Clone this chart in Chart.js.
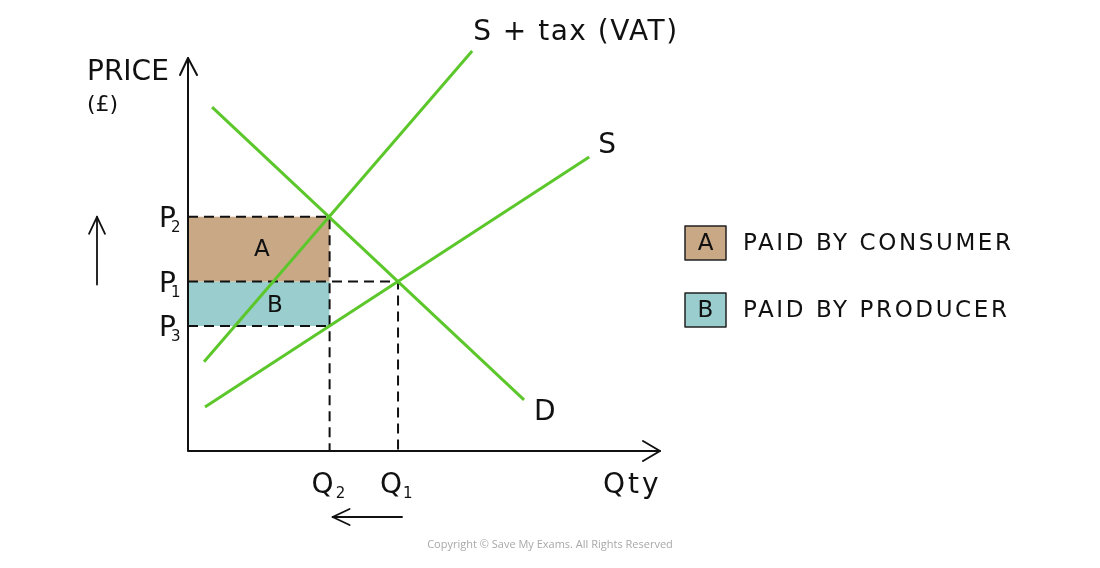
<!DOCTYPE html>
<html>
<head>
<meta charset="utf-8">
<script src="https://cdn.jsdelivr.net/npm/chart.js@4.4.1/dist/chart.umd.min.js"></script>
<style>
html,body{margin:0;padding:0;background:#fff;}
#wrap{width:1100px;height:568px;position:relative;}
</style>
</head>
<body>
<div id="wrap"><canvas id="c" width="1100" height="568"></canvas></div>
<script>
// ---- data (economic units) ----
const demand    = [{x:0.51, y:8.75}, {x:7.12, y:1.30}];
const supply    = [{x:0.36, y:1.12}, {x:8.50, y:7.48}];
const supplyTax = [{x:0.34, y:2.27}, {x:6.02, y:10.18}];

const priceNames  = ['P2', 'P1', 'P3'];
const priceValues = [5.96, 4.31, 3.18];
const qtyNames    = ['Q2', 'Q1'];
const qtyValues   = [3.00, 4.45];

const curveNames  = ['S + tax (VAT)', 'S', 'D'];
const legendKeys  = ['A', 'B'];
const legendTexts = ['PAID BY CONSUMER', 'PAID BY PRODUCER'];
const axisTitles  = ['PRICE', '(£)', 'Qty'];
const xMax = 10, yMax = 10;

const P2 = priceValues[0], P1 = priceValues[1], P3 = priceValues[2];
const Q2 = qtyValues[0], Q1 = qtyValues[1];

const GREEN = '#5cc72b', BROWN = '#c9a886', TEAL = '#99cdce', INK = '#111';
const FONT = "'DejaVu Sans', sans-serif";

const dash = {borderColor:'#111', borderWidth:2, borderDash:[10,6], pointRadius:0, showLine:true, fill:false, clip:false};
const green = {borderColor:GREEN, borderWidth:3, pointRadius:0, showLine:true, fill:false, clip:false};

const datasets = [
  {label:'A', data:[{x:0,y:P2},{x:Q2,y:P2}], showLine:true, pointRadius:0, borderWidth:0,
   backgroundColor:BROWN, fill:{value:P1}, order:10},
  {label:'B', data:[{x:0,y:P1},{x:Q2,y:P1}], showLine:true, pointRadius:0, borderWidth:0,
   backgroundColor:TEAL, fill:{value:P3}, order:10},
  Object.assign({label:'P2 guide', data:[{x:0,y:P2},{x:Q2,y:P2},{x:Q2,y:0}], order:5}, dash),
  Object.assign({label:'P1 guide', data:[{x:0,y:P1},{x:Q1,y:P1},{x:Q1,y:0}], order:5}, dash),
  Object.assign({label:'P3 guide', data:[{x:0,y:P3},{x:Q2,y:P3}], order:5}, dash),
  Object.assign({label:'D', data:demand, order:1}, green),
  Object.assign({label:'S', data:supply, order:1}, green),
  Object.assign({label:'S + tax', data:supplyTax, order:1}, green),
];

function spaced(ctx, txt, x, y, sp) {
  if ('letterSpacing' in ctx) ctx.letterSpacing = sp + 'px';
  ctx.fillText(txt, x, y);
  if ('letterSpacing' in ctx) ctx.letterSpacing = '0px';
}

function sub(ctx, main, s, x, y, size, dx) {
  ctx.font = size + 'px ' + FONT;
  ctx.textAlign = 'left';
  ctx.textBaseline = 'alphabetic';
  ctx.fillText(main, x, y);
  const w = ctx.measureText(main).width;
  ctx.font = Math.round(size*0.55) + 'px ' + FONT;
  ctx.fillText(s, x + w + dx, y + 5);
}

const overlay = {
  id:'overlay',
  afterDraw(chart) {
    const ctx = chart.ctx, xs = chart.scales.x, ys = chart.scales.y;
    const ox = xs.getPixelForValue(0), oy = ys.getPixelForValue(0);
    const tx = xs.getPixelForValue(xMax), ty = ys.getPixelForValue(yMax);
    ctx.save();
    ctx.strokeStyle = INK; ctx.fillStyle = INK; ctx.lineWidth = 2; ctx.lineCap = 'round'; ctx.lineJoin='round';
    // axes
    ctx.beginPath(); ctx.moveTo(ox, ty); ctx.lineTo(ox, oy); ctx.lineTo(tx, oy); ctx.stroke();
    ctx.beginPath(); ctx.moveTo(ox-8, ty+17); ctx.lineTo(ox, ty); ctx.lineTo(ox+9, ty+17); ctx.stroke();
    ctx.beginPath(); ctx.moveTo(tx-17, oy-10); ctx.lineTo(tx, oy); ctx.lineTo(tx-17, oy+10); ctx.stroke();
    // direction arrows
    const pTop = ys.getPixelForValue(P2), pBot = ys.getPixelForValue(P1);
    ctx.lineWidth = 1.8;
    ctx.beginPath(); ctx.moveTo(97, pBot+3); ctx.lineTo(97, pTop); ctx.stroke();
    ctx.beginPath(); ctx.moveTo(89, pTop+17); ctx.lineTo(97, pTop); ctx.lineTo(105, pTop+17); ctx.stroke();
    const q2 = xs.getPixelForValue(Q2), q1 = xs.getPixelForValue(Q1);
    ctx.beginPath(); ctx.moveTo(q1+4, 517); ctx.lineTo(q2+3, 517); ctx.stroke();
    ctx.beginPath(); ctx.moveTo(q2+20, 509); ctx.lineTo(q2+3, 517); ctx.lineTo(q2+20, 525); ctx.stroke();

    // axis titles
    ctx.textBaseline = 'alphabetic'; ctx.textAlign = 'left';
    ctx.font = '28px ' + FONT; ctx.fillText(axisTitles[0], 87, 80);
    ctx.font = '22px ' + FONT; ctx.fillText(axisTitles[1], 87, 111);
    ctx.font = '28px ' + FONT; spaced(ctx, axisTitles[2], 603, 493, 3);

    // price labels
    priceNames.forEach((n, i) => {
      const y = ys.getPixelForValue(priceValues[i]);
      sub(ctx, n[0], n.slice(1), 159, y + 10, 28, -5);
    });
    qtyNames.forEach((n, i) => {
      const x = xs.getPixelForValue(qtyValues[i]);
      sub(ctx, n[0], n.slice(1), x - 18, 493, 28, i === 0 ? 2 : 1);
    });

    // curve labels
    ctx.font = '28px ' + FONT; ctx.textAlign = 'left';
    const st = supplyTax[1], s = supply[1], d = demand[1];
    spaced(ctx, curveNames[0], xs.getPixelForValue(st.x) + 1, 40, 1.5);
    ctx.fillText(curveNames[1], xs.getPixelForValue(s.x) + 9, ys.getPixelForValue(s.y) - 4);
    ctx.fillText(curveNames[2], xs.getPixelForValue(d.x) + 10, ys.getPixelForValue(d.y) + 20);

    // area letters
    ctx.font = '23px ' + FONT; ctx.textAlign = 'center'; ctx.textBaseline = 'middle';
    ctx.fillText(legendKeys[0], (ox + q2)/2 + 3, (ys.getPixelForValue(P2) + ys.getPixelForValue(P1))/2 + 1);
    ctx.fillText(legendKeys[1], (ox + q2)/2 + 16, (ys.getPixelForValue(P1) + ys.getPixelForValue(P3))/2 + 2);

    // legend
    const cols = [BROWN, TEAL];
    legendKeys.forEach((k, i) => {
      const top = 226 + i*67;
      ctx.fillStyle = cols[i]; ctx.fillRect(685, top, 41, 34);
      ctx.strokeStyle = '#222'; ctx.lineWidth = 1.5; ctx.strokeRect(685, top, 41, 34);
      ctx.fillStyle = INK; ctx.font = '23px ' + FONT; ctx.textAlign = 'center'; ctx.textBaseline = 'middle';
      ctx.fillText(k, 705.5, top + 18);
      ctx.textAlign = 'left'; ctx.font = '23px ' + FONT;
      spaced(ctx, legendTexts[i], 743, top + 18, 2.6);
    });

    // copyright
    ctx.fillStyle = '#a8a8a8'; ctx.font = "11px 'Open Sans', sans-serif"; ctx.textAlign = 'center'; ctx.textBaseline = 'middle';
    ctx.fillText('Copyright © Save My Exams. All Rights Reserved', 550, 545);
    ctx.restore();
  }
};

new Chart(document.getElementById('c'), {
  type:'scatter',
  data:{datasets},
  options:{
    responsive:false, animation:false, devicePixelRatio:1,
    layout:{padding:{left:188, right:440, top:58, bottom:117}},
    plugins:{legend:{display:false}, tooltip:{enabled:false}},
    scales:{
      x:{type:'linear', min:0, max:xMax, display:false},
      y:{type:'linear', min:0, max:yMax, display:false}
    }
  },
  plugins:[overlay]
});
</script>
</body>
</html>
